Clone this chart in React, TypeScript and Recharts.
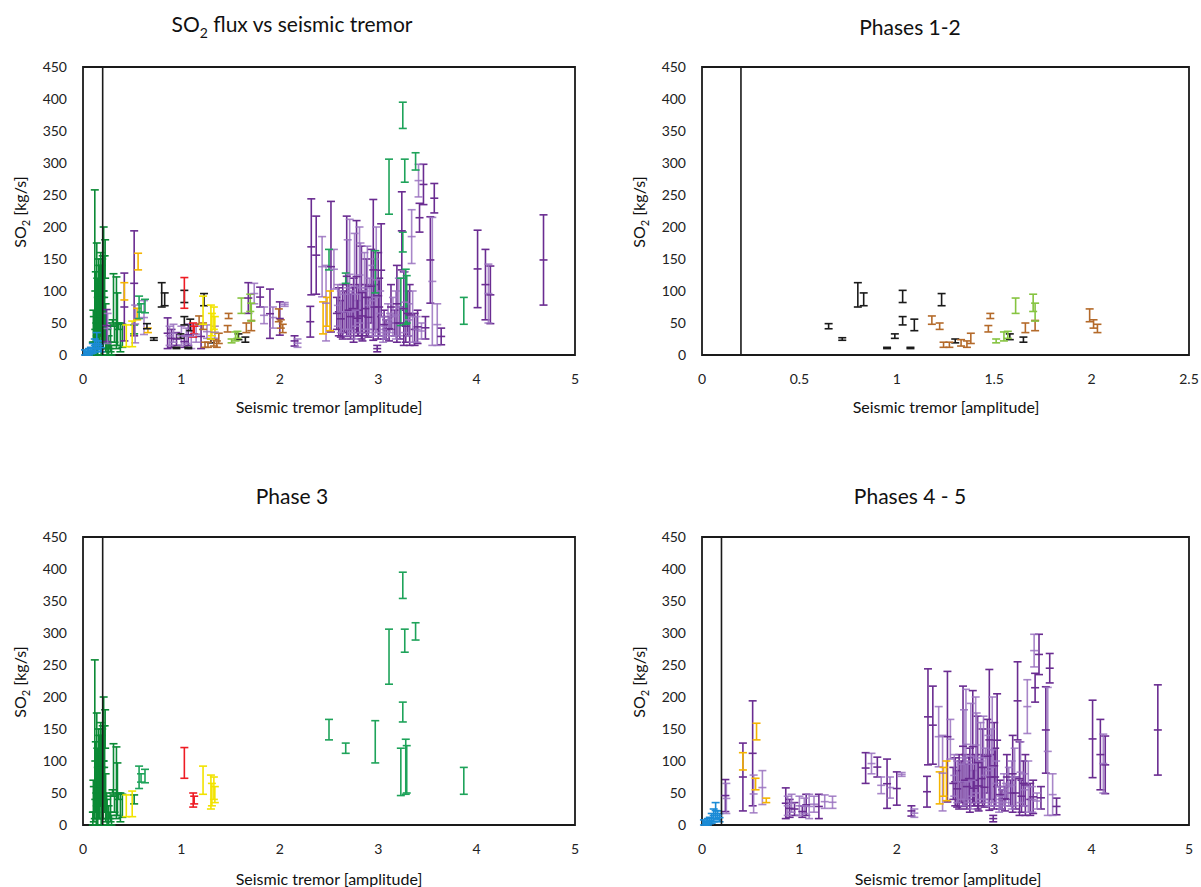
import React from "react";
import {
  ErrorBar,
  ReferenceArea,
  ReferenceLine,
  Scatter,
  ScatterChart,
  XAxis,
  YAxis,
} from "recharts";

// each entry: [tremor amplitude, SO2 low, SO2 high]
type Bar = [number, number, number];

const phase12Black: Bar[] = [
  [0.65, 41, 49], [0.72, 23, 27], [0.8, 75, 113], [0.83, 77, 97], [0.95, 10, 12],
  [0.99, 26, 33], [1.03, 82, 101], [1.03, 47, 60], [1.07, 10, 12], [1.09, 38, 56],
  [1.23, 77, 96], [1.3, 19, 25], [1.58, 24, 33], [1.65, 20, 28],
];

const phase12Brown: Bar[] = [
  [1.18, 48, 61], [1.22, 40, 50], [1.24, 12, 20], [1.27, 12, 20], [1.33, 14, 24],
  [1.36, 12, 22], [1.38, 18, 34], [1.47, 36, 46], [1.48, 57, 65], [1.66, 35, 50],
  [1.71, 38, 54], [1.99, 52, 72], [2.01, 42, 55], [2.03, 35, 48],
];

const phase12LightGreen: Bar[] = [
  [1.51, 19, 25], [1.55, 22, 36], [1.57, 26, 37], [1.61, 65, 89], [1.7, 68, 95], [1.71, 53, 81],
];

const phase3DarkGreen: Bar[] = [
  [0.1, 0, 20], [0.105, 20, 70], [0.11, 5, 60], [0.12, 10, 258], [0.125, 40, 100],
  [0.13, 20, 130], [0.135, 0, 50], [0.14, 30, 175], [0.145, 60, 120], [0.15, 0, 90],
  [0.155, 10, 70], [0.16, 40, 150], [0.165, 80, 140], [0.17, 10, 110], [0.175, 30, 90],
  [0.18, 60, 160], [0.185, 0, 60], [0.19, 0, 140], [0.195, 90, 150], [0.2, 50, 155],
  [0.205, 10, 100], [0.21, 100, 200], [0.215, 30, 90], [0.22, 20, 155], [0.225, 120, 180],
  [0.23, 5, 80], [0.24, 10, 50], [0.245, 0, 40], [0.26, 0, 30], [0.27, 10, 20],
  [0.28, 5, 45], [0.29, 0, 15], [0.3, 50, 55], [0.31, 47, 127], [0.32, 20, 45],
  [0.34, 10, 122], [0.35, 15, 97], [0.36, 40, 50], [0.38, 5, 50], [0.4, 12, 48],
  [0.52, 33, 47],
];

const phase3Green: Bar[] = [
  [0.57, 57, 92], [0.59, 67, 80], [0.63, 66, 87], [2.5, 133, 165], [2.67, 112, 128],
  [2.97, 97, 163], [3.11, 220, 306], [3.23, 46, 120], [3.25, 354, 395], [3.25, 161, 192],
  [3.27, 270, 306], [3.28, 48, 134], [3.29, 50, 124], [3.38, 289, 316], [3.87, 48, 90],
];

const phase3Red: Bar[] = [[1.03, 73, 121], [1.12, 28, 50], [1.13, 33, 45]];

const phase3Yellow: Bar[] = [
  [0.44, 13, 47], [0.5, 13, 53], [1.22, 48, 92], [1.3, 25, 78], [1.31, 30, 65],
  [1.33, 40, 75], [1.34, 35, 60],
];

const phase45Blue: Bar[] = [
  [0.02, 0, 8], [0.04, 0, 6], [0.06, 0, 10], [0.08, 2, 12], [0.1, 3, 18],
  [0.12, 5, 25], [0.14, 10, 35], [0.16, 8, 22], [0.18, 5, 18],
];

const phase45Orange: Bar[] = [
  [0.42, 86, 113], [0.55, 55, 73], [0.56, 133, 159], [0.66, 35, 42],
  [2.44, 33, 83], [2.48, 45, 90], [2.51, 38, 100],
];

const phase45Purple: Bar[] = [
  [0.24, 21, 71], [0.42, 22, 128], [0.52, 30, 194], [0.86, 10, 58], [0.9, 12, 40],
  [0.95, 15, 35], [1.03, 12, 30], [1.07, 15, 48], [1.2, 10, 48], [1.68, 65, 113],
  [1.8, 75, 106], [1.9, 26, 103], [2.0, 31, 83], [2.15, 14, 30], [2.32, 94, 244],
  [2.31, 28, 76], [2.37, 95, 217], [2.52, 36, 240], [2.58, 40, 90], [2.6, 30, 105],
  [2.62, 28, 85], [2.64, 25, 110], [2.66, 35, 100], [2.68, 29, 217], [2.7, 30, 110],
  [2.72, 25, 95], [2.74, 40, 105], [2.75, 20, 120], [2.78, 35, 210], [2.79, 30, 85],
  [2.8, 30, 110], [2.83, 25, 170], [2.84, 22, 100], [2.87, 35, 110], [2.88, 30, 150],
  [2.9, 28, 90], [2.93, 50, 165], [2.95, 23, 243], [2.96, 40, 110], [2.99, 5, 15],
  [3.0, 25, 160], [3.01, 30, 120], [3.03, 60, 205], [3.06, 25, 70], [3.08, 25, 55],
  [3.11, 22, 60], [3.13, 40, 110], [3.17, 30, 70], [3.19, 20, 140], [3.22, 25, 75],
  [3.24, 133, 255], [3.26, 15, 130], [3.28, 20, 70], [3.3, 30, 100], [3.32, 15, 110],
  [3.37, 15, 65], [3.4, 18, 70], [3.42, 192, 237], [3.46, 235, 298], [3.48, 25, 60],
  [3.53, 81, 216], [3.57, 222, 268], [3.64, 16, 42], [4.01, 74, 195], [4.09, 55, 165],
  [4.14, 49, 139], [4.68, 78, 219],
];

const phase45LightPurple: Bar[] = [
  [0.25, 18, 65], [0.53, 19, 78], [0.62, 32, 85], [0.88, 15, 45], [0.92, 20, 48],
  [1.0, 15, 45], [1.05, 18, 42], [1.1, 10, 48], [1.15, 20, 45], [1.26, 26, 47],
  [1.34, 26, 45], [1.74, 80, 112], [1.84, 49, 75], [1.93, 42, 75], [2.05, 76, 82],
  [2.18, 12, 25], [2.43, 91, 185], [2.47, 22, 140], [2.55, 103, 165], [2.59, 45, 110],
  [2.62, 35, 100], [2.66, 40, 95], [2.69, 30, 180], [2.71, 40, 212], [2.73, 35, 100],
  [2.76, 25, 190], [2.77, 45, 95], [2.81, 50, 200], [2.82, 35, 175], [2.86, 40, 160],
  [2.89, 40, 170], [2.91, 35, 120], [2.94, 30, 140], [2.97, 30, 150], [2.98, 35, 200],
  [3.02, 30, 100], [3.05, 20, 60], [3.07, 25, 45], [3.1, 30, 80], [3.12, 35, 65],
  [3.15, 30, 90], [3.18, 25, 100], [3.21, 30, 120], [3.27, 35, 130], [3.31, 30, 80],
  [3.34, 143, 227], [3.35, 20, 100], [3.39, 20, 60], [3.41, 247, 298], [3.44, 25, 50],
  [3.55, 15, 215], [3.6, 15, 80], [4.12, 50, 142],
];

const yTicks = [0, 50, 100, 150, 200, 250, 300, 350, 400, 450];
const xTicksWide = [0, 1, 2, 3, 4, 5];
const xTicksNarrow = [0, 0.5, 1, 1.5, 2, 2.5];

type Series = { name: string; bars: Bar[]; color: string; opacity?: number; mark?: boolean };

const s = {
  black: { name: "p12-black", bars: phase12Black, color: "#1a1a1a" },
  brown: { name: "p12-brown", bars: phase12Brown, color: "#b46a2a" },
  lgreen: { name: "p12-lgreen", bars: phase12LightGreen, color: "#86c440" },
  dgreen: { name: "p3-dgreen", bars: phase3DarkGreen, color: "#0b8a35" },
  green: { name: "p3-green", bars: phase3Green, color: "#1ea35a" },
  red: { name: "p3-red", bars: phase3Red, color: "#ee1c24" },
  yellow: { name: "p3-yellow", bars: phase3Yellow, color: "#f2e300" },
  blue: { name: "p45-blue", bars: phase45Blue, color: "#1b8bd6", mark: true },
  orange: { name: "p45-orange", bars: phase45Orange, color: "#f5b400" },
  purple: { name: "p45-purple", bars: phase45Purple, color: "#6a2c91", mark: true },
  lpurple: { name: "p45-lpurple", bars: phase45LightPurple, color: "#9a72c0", mark: true, opacity: 0.85 },
};

const toPoints = (bars: Bar[]) =>
  bars.map(([x, lo, hi]) => ({ x, y: (lo + hi) / 2, err: [(hi - lo) / 2, (hi - lo) / 2] }));

const FONT = "Lato, 'Open Sans', sans-serif";

type PanelProps = {
  left: number;
  top: number;
  width: number;
  height: number;
  margin: { top: number; right: number; bottom: number; left: number };
  xMax: number;
  xTicks: number[];
  series: Series[];
};

const Panel = ({ left, top, width, height, margin, xMax, xTicks, series }: PanelProps) => (
  <div style={{ position: "absolute", left, top }}>
    <ScatterChart width={width} height={height} margin={margin}>
      <XAxis
        type="number"
        dataKey="x"
        domain={[0, xMax]}
        ticks={xTicks}
        allowDataOverflow
        axisLine={false}
        tickLine={false}
        tickMargin={13}
        height={40}
        tick={{ fill: "#222", fontSize: 14, fontFamily: FONT }}
      />
      <YAxis
        type="number"
        dataKey="y"
        domain={[0, 450]}
        ticks={yTicks}
        allowDataOverflow
        axisLine={false}
        tickLine={false}
        tickMargin={10}
        width={60}
        tick={{ fill: "#222", fontSize: 14, fontFamily: FONT }}
      />
      {series.map((ser) => (
        <Scatter
          key={ser.name}
          data={toPoints(ser.bars)}
          isAnimationActive={false}
          shape={(p: any) =>
            ser.mark ? (
              <line
                x1={p.cx - 4}
                x2={p.cx + 4}
                y1={p.cy}
                y2={p.cy}
                stroke={ser.color}
                strokeWidth={1.6}
                strokeOpacity={ser.opacity ?? 1}
              />
            ) : (
              <g />
            )
          }
        >
          <ErrorBar
            dataKey="err"
            direction="y"
            width={4}
            stroke={ser.color}
            strokeWidth={1.6}
            strokeOpacity={ser.opacity ?? 1}
            isAnimationActive={false}
          />
        </Scatter>
      ))}
      <ReferenceLine x={0.2} stroke="#1a1a1a" strokeWidth={1.6} ifOverflow="visible" />
      <ReferenceArea
        x1={0}
        x2={xMax}
        y1={0}
        y2={450}
        fill="none"
        fillOpacity={0}
        stroke="#1a1a1a"
        strokeWidth={1.8}
        ifOverflow="visible"
      />
    </ScatterChart>
  </div>
);

const Title = ({ x, y, children }: { x: number; y: number; children: React.ReactNode }) => (
  <div
    style={{
      position: "absolute",
      left: x,
      top: y,
      transform: "translate(-50%, -50%)",
      fontSize: 21,
      color: "#111",
      whiteSpace: "nowrap",
    }}
  >
    {children}
  </div>
);

const XTitle = ({ x, y }: { x: number; y: number }) => (
  <div
    style={{
      position: "absolute",
      left: x,
      top: y,
      transform: "translate(-50%, -50%)",
      fontSize: 16,
      color: "#111",
      whiteSpace: "nowrap",
    }}
  >
    Seismic tremor [amplitude]
  </div>
);

const YTitle = ({ x, y }: { x: number; y: number }) => (
  <div
    style={{
      position: "absolute",
      left: x,
      top: y,
      transform: "translate(-50%, -50%) rotate(-90deg)",
      fontSize: 16,
      color: "#111",
      whiteSpace: "nowrap",
    }}
  >
    SO<sub style={{ fontSize: 11 }}>2</sub> [kg/s]
  </div>
);

const allSeries: Series[] = [
  s.dgreen, s.blue, s.purple, s.lpurple, s.orange, s.black, s.brown, s.lgreen,
  s.red, s.yellow, s.green,
];

export default function App() {
  return (
    <div
      style={{
        position: "absolute",
        left: 0,
        top: 0,
        width: 1201,
        height: 887,
        background: "#fff",
        fontFamily: FONT,
        overflow: "hidden",
      }}
    >
      <Panel
        left={0}
        top={0}
        width={600}
        height={400}
        margin={{ top: 67, right: 25, bottom: 5, left: 23 }}
        xMax={5}
        xTicks={xTicksWide}
        series={allSeries}
      />
      <Panel
        left={600}
        top={0}
        width={601}
        height={400}
        margin={{ top: 67, right: 12, bottom: 5, left: 42 }}
        xMax={2.5}
        xTicks={xTicksNarrow}
        series={[s.black, s.brown, s.lgreen]}
      />
      <Panel
        left={0}
        top={470}
        width={600}
        height={417}
        margin={{ top: 67, right: 25, bottom: 22, left: 23 }}
        xMax={5}
        xTicks={xTicksWide}
        series={[s.dgreen, s.green, s.red, s.yellow]}
      />
      <Panel
        left={600}
        top={470}
        width={601}
        height={417}
        margin={{ top: 67, right: 12, bottom: 22, left: 42 }}
        xMax={5}
        xTicks={xTicksWide}
        series={[s.blue, s.purple, s.lpurple, s.orange]}
      />

      <Title x={292} y={26}>
        SO<sub style={{ fontSize: 14 }}>2</sub> flux vs seismic tremor
      </Title>
      <Title x={910} y={26}>Phases 1-2</Title>
      <Title x={292} y={495}>Phase 3</Title>
      <Title x={910} y={495}>Phases 4 - 5</Title>

      <XTitle x={329} y={406} />
      <XTitle x={946} y={406} />
      <XTitle x={329} y={878} />
      <XTitle x={948} y={878} />

      <YTitle x={21} y={212} />
      <YTitle x={640} y={212} />
      <YTitle x={21} y={682} />
      <YTitle x={640} y={682} />
    </div>
  );
}
